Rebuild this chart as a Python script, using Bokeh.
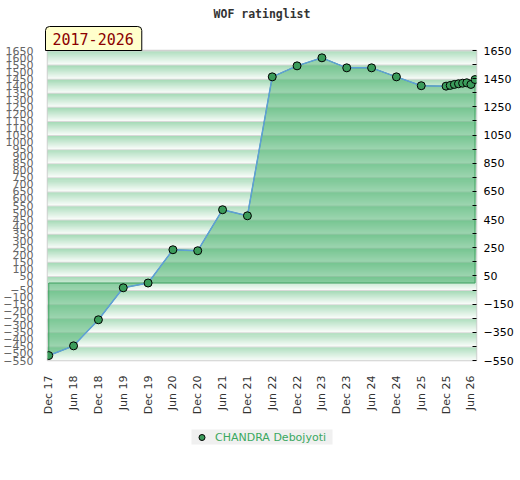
import math
from bokeh.plotting import figure
from bokeh.layouts import column
from bokeh.models import Range1d, LinearAxis, FixedTicker, Title, Legend, LegendItem
from bokeh.embed import file_html
from bokeh.resources import INLINE

title_text = "WOF ratinglist"
period_text = "2017-2026"
player = "CHANDRA Debojyoti"

dates = ["2017-12", "2018-06", "2018-12", "2019-06", "2019-12", "2020-06",
         "2020-12", "2021-06", "2021-12", "2022-06", "2022-12", "2023-06",
         "2023-12", "2024-06", "2024-12", "2025-06", "2025-12", "2026-01",
         "2026-02", "2026-03", "2026-04", "2026-05", "2026-06", "2026-07"]
ratings = [-515, -446, -261, -34, 0, 236, 229, 520, 477, 1463, 1541, 1598,
           1527, 1527, 1463, 1400, 1397, 1402, 1409, 1414, 1418, 1421, 1409, 1444]

tick_labels = ["Dec 17", "Jun 18", "Dec 18", "Jun 19", "Dec 19", "Jun 20",
               "Dec 20", "Jun 21", "Dec 21", "Jun 22", "Dec 22", "Jun 23",
               "Dec 23", "Jun 24", "Dec 24", "Jun 25", "Dec 25", "Jun 26"]
y_min, y_max = -550, 1650
left_ticks = list(range(-550, 1651, 50))
right_ticks = list(range(-550, 1651, 200))
right_minor = list(range(-450, 1651, 200))


def month_index(d):
    y, m = map(int, d.split("-"))
    return (y - 2017) * 12 + (m - 12)


xs = [month_index(d) for d in dates]
tick_pos = [i * 6 for i in range(len(tick_labels))]

x0, x1 = -0.3, 103.35
p = figure(frame_width=429, frame_height=310, output_backend="svg",
           toolbar_location=None, title=None,
           x_range=Range1d(x0, x1), y_range=Range1d(y_min, y_max),
           min_border_left=46, min_border_right=30, min_border_top=50,
           min_border_bottom=0)
p.background_fill_color = "white"
p.border_fill_color = "white"
p.outline_line_color = "#cfcfcf"
p.outline_line_width = 1.5
p.xgrid.visible = False
p.ygrid.visible = False

# striped gradient background
rows = 14
c0 = (168, 219, 185)
c1 = (246, 251, 247)
tops, bots, cols = [], [], []
h = 100 / rows
for T in range(y_max, y_min, -100):
    for r in range(rows):
        top = T - r * h
        bot = max(T - (r + 1) * h - 2, y_min)
        if r == 0:
            col = "#d8d8d8"
        else:
            t = (r - 1) / (rows - 2)
            col = "#%02x%02x%02x" % tuple(int(round(a + (b - a) * t)) for a, b in zip(c0, c1))
        tops.append(top)
        bots.append(bot)
        cols.append(col)
p.quad(left=x0, right=x1, top=tops, bottom=bots, fill_color=cols, line_color=None)

# filled area to zero
px = [xs[0]] + xs + [xs[-1]]
py = [0] + ratings + [0]
p.patch(px, py, fill_color=(80, 180, 115), fill_alpha=0.55,
        line_color="#3c9f5e", line_width=1)
p.line(xs, ratings, line_color="#5f9fd8", line_width=1.5)
p.scatter(xs, ratings, size=8, fill_color="#3b9c5b", line_color="black", line_width=1)

# x axis
p.xaxis.ticker = FixedTicker(ticks=tick_pos)
p.xaxis.major_label_overrides = {pos: lab for pos, lab in zip(tick_pos, tick_labels)}
p.xaxis.major_label_orientation = math.pi / 2
p.xaxis.axis_line_color = None
p.xaxis.major_tick_line_color = None
p.xaxis.minor_tick_line_color = None
p.xaxis.major_label_standoff = 9
p.xaxis.major_label_text_font = "DejaVu Sans"
p.xaxis.major_label_text_font_size = "11px"
p.xaxis.major_label_text_color = "#333333"

# left axis
p.yaxis.ticker = FixedTicker(ticks=left_ticks)
p.yaxis.axis_line_color = None
p.yaxis.major_tick_line_color = None
p.yaxis.minor_tick_line_color = None
p.yaxis.major_label_standoff = 8
p.yaxis.major_label_text_font = "DejaVu Sans"
p.yaxis.major_label_text_font_size = "11px"
p.yaxis.major_label_text_color = "#666666"

# right axis
ra = LinearAxis(ticker=FixedTicker(ticks=right_ticks, minor_ticks=right_minor),
                axis_line_color=None, major_tick_in=4, major_tick_out=0,
                minor_tick_in=4, minor_tick_out=0,
                major_tick_line_color="black", minor_tick_line_color="black",
                major_label_standoff=7, major_label_text_font="DejaVu Sans",
                major_label_text_font_size="11px", major_label_text_color="black")
p.add_layout(ra, "right")

# period box and title in the top panel
period = Title(text=period_text, align="left", offset=-2, standoff=0,
               text_font="DejaVu Sans Mono", text_font_style="normal",
               text_font_size="15px", text_color="#8b0000",
               background_fill_color="#ffffcc", border_line_color="black",
               border_line_width=1,
               padding=dict(left=7, right=8, top=6, bottom=6),
               border_radius=dict(top_left=4, top_right=4, bottom_right=0, bottom_left=0))
main_title = Title(text=title_text, align="center", standoff=7,
                   text_font="DejaVu Sans Mono", text_font_style="bold",
                   text_font_size="11.5px", text_color="#333333")
p.add_layout(period, "above")
p.add_layout(main_title, "above")

# legend strip below the chart
p2 = figure(frame_width=429, frame_height=39, output_backend="svg",
            toolbar_location=None, title=None, x_axis_location=None,
            y_axis_location=None, min_border_left=46, min_border_right=30,
            min_border_top=0, min_border_bottom=0)
p2.outline_line_color = None
p2.background_fill_color = "white"
p2.border_fill_color = "white"
p2.xgrid.visible = False
p2.ygrid.visible = False
key = p2.scatter(xs, ratings, size=8, fill_color="#3b9c5b", line_color="black",
                 line_width=1, visible=False)
legend = Legend(items=[LegendItem(label=player, renderers=[key])], location="center",
                orientation="horizontal", background_fill_color="#f0f0f0",
                background_fill_alpha=1, border_line_color=None,
                inactive_fill_alpha=0,
                label_text_color="#3aa860", label_text_font="DejaVu Sans",
                label_text_font_size="11px", glyph_width=20, glyph_height=15,
                label_height=15, label_width=117, padding=3, margin=0,
                label_standoff=4)
p2.add_layout(legend, "center")

open("out.html", "w").write(file_html(column(p, p2), INLINE))
